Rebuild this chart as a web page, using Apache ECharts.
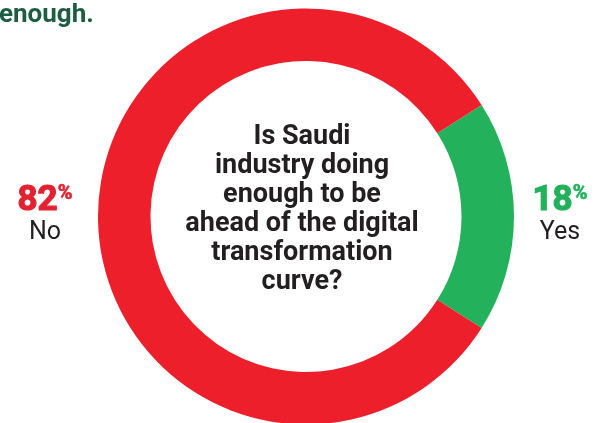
<!DOCTYPE html>
<html>
<head>
<meta charset="utf-8">
<script src="https://cdn.jsdelivr.net/npm/echarts@6/dist/echarts.min.js"></script>
<style>html,body{margin:0;padding:0;background:#fff;}#c{width:603px;height:423px;}</style>
</head>
<body>
<div id="c"></div>
<script>
var categories = ['Yes', 'No'];
var values = [18, 82];
var colors = ['#23B25B', '#ED1F2B'];
var labelColors = ['#22B15A', '#E42131'];
var question = ['Is Saudi', 'industry doing', 'enough to be', 'ahead of the digital', 'transformation', 'curve?'];
var headerText = 'enough.';

var chart = echarts.init(document.getElementById('c'), null, {renderer: 'canvas'});
var cx = 306, cy = 216.5;
var startAngle = values[0] / 100 * 360 / 2;
var FONT = 'Roboto';

function pctTitle(i, left, top) {
  return {
    text: '{num|' + values[i] + '}{pct|%}\n{cat|' + categories[i] + '}',
    left: left, top: top, padding: 0,
    textAlign: 'center',
    textStyle: {
      rich: {
        num: {fontFamily: FONT, fontWeight: 'bold', fontSize: 35, color: labelColors[i], lineHeight: 35, verticalAlign: 'bottom',
              textBorderColor: labelColors[i], textBorderWidth: 1.2},
        pct: {fontFamily: FONT, fontWeight: 'bold', fontSize: 20, color: labelColors[i], lineHeight: 35, verticalAlign: 'top', padding: [0, 0, 14, 0],
              textBorderColor: labelColors[i], textBorderWidth: 0.6},
        cat: {fontFamily: FONT, fontWeight: 400, fontSize: 25, color: '#231F20', lineHeight: 28, align: 'center'}
      }
    }
  };
}

chart.setOption({
  animation: false,
  title: [
    {text: headerText, left: -1, top: 2, padding: 0,
     textStyle: {fontFamily: FONT, fontWeight: 'bold', fontSize: 26, color: '#1D5E42'}},
    {text: question.join('\n'), left: 302, top: 123, textAlign: 'center', padding: 0,
     textStyle: {fontFamily: FONT, fontWeight: 'bold', fontSize: 27, lineHeight: 29, color: '#231F20', align: 'center'}},
    pctTitle(1, 45, 184),
    pctTitle(0, 560, 184)
  ],
  series: [{
    type: 'pie',
    center: [cx, cy],
    radius: [155.5, 208],
    startAngle: startAngle,
    clockwise: true,
    silent: true,
    label: {show: false},
    labelLine: {show: false},
    itemStyle: {borderWidth: 0},
    emphasis: {disabled: true},
    data: categories.map(function (c, i) {
      return {name: c, value: values[i], itemStyle: {color: colors[i]}};
    })
  }]
});
</script>
</body>
</html>
